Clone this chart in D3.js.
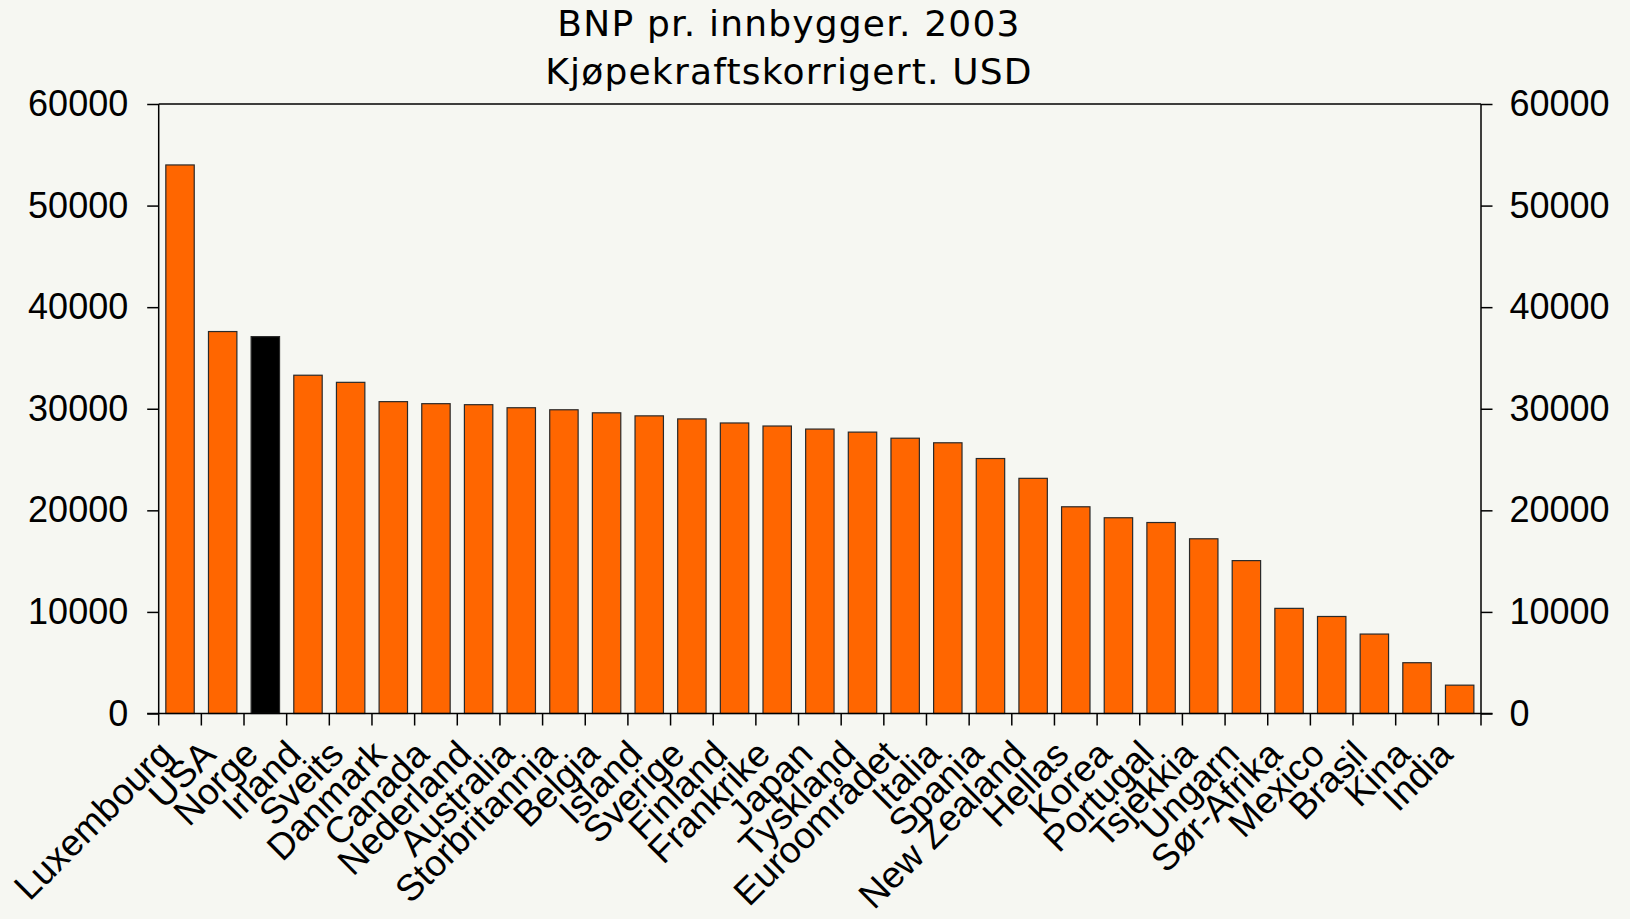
<!DOCTYPE html>
<html>
<head>
<meta charset="utf-8">
<script src="https://cdn.jsdelivr.net/npm/d3@7"></script>
<style>
  html, body { margin: 0; padding: 0; background: #f6f7f2; }
  svg { display: block; }
</style>
</head>
<body>
<svg id="chart" width="1630" height="919"></svg>
<script>
// ---- data ----
const titleLines = ["BNP pr. innbygger. 2003", "Kjøpekraftskorrigert. USD"];
const countries = ["Luxembourg", "USA", "Norge", "Irland", "Sveits", "Danmark", "Canada", "Nederland",
  "Australia", "Storbritannia", "Belgia", "Island", "Sverige", "Finland", "Frankrike", "Japan",
  "Tyskland", "Euroområdet", "Italia", "Spania", "New Zealand", "Hellas", "Korea", "Portugal",
  "Tsjekkia", "Ungarn", "Sør-Afrika", "Mexico", "Brasil", "Kina", "India"];
const gdpPerCapita = [54000, 37600, 37100, 33300, 32600, 30700, 30500, 30400,
  30100, 29900, 29600, 29300, 29000, 28600, 28300, 28000,
  27700, 27100, 26650, 25100, 23150, 20350, 19270, 18800,
  17200, 15050, 10350, 9550, 7820, 5000, 2790];
const highlighted = ["Norge"];
const yTicks = [0, 10000, 20000, 30000, 40000, 50000, 60000];

// ---- layout ----
const W = 1630, H = 919;
const pLeft = 158.7, pRight = 1481, pTop = 104, pBottom = 713.5;
const svg = d3.select("#chart");
svg.append("rect").attr("width", W).attr("height", H).attr("fill", "#f6f7f2");

const x = d3.scaleBand().domain(countries).range([pLeft, pRight]).padding(0);
const y = d3.scaleLinear().domain([0, 60000]).range([pBottom, pTop]);
const barFrac = 0.666;

// bars
svg.append("g").selectAll("rect").data(countries).join("rect")
  .attr("x", d => x(d) + x.step() * (1 - barFrac) / 2)
  .attr("width", x.step() * barFrac)
  .attr("y", (d, i) => y(gdpPerCapita[i]))
  .attr("height", (d, i) => y(0) - y(gdpPerCapita[i]))
  .attr("fill", d => highlighted.includes(d) ? "#000000" : "#ff6600")
  .attr("stroke", "#2a2a2a")
  .attr("stroke-width", 1.2);

// top border
svg.append("line").attr("x1", pLeft).attr("x2", pRight).attr("y1", pTop).attr("y2", pTop)
  .attr("stroke", "#000").attr("stroke-width", 1.5);

// left axis
const yAxisL = d3.axisLeft(y).tickValues(yTicks).tickSize(11.5).tickPadding(19).tickFormat(d3.format("d"));
const gL = svg.append("g").attr("transform", `translate(${pLeft},0)`).call(yAxisL);
// right axis
const yAxisR = d3.axisRight(y).tickValues(yTicks).tickSize(11.5).tickPadding(17).tickFormat(d3.format("d"));
const gR = svg.append("g").attr("transform", `translate(${pRight},0)`).call(yAxisR);
[gL, gR].forEach(g => {
  g.select(".domain").attr("stroke", "#000").attr("stroke-width", 1.5)
    .attr("d", `M0,${pTop}V${pBottom}`);
  g.selectAll(".tick line").attr("stroke", "#000").attr("stroke-width", 1.5);
  g.selectAll(".tick text").attr("fill", "#000")
    .style("font-family", "'Liberation Sans', Arial, sans-serif").style("font-size", "36px");
});

// bottom axis: ticks at category boundaries
const boundaries = countries.map(c => x(c)).concat([pRight]);
svg.append("line").attr("x1", pLeft - 11.5).attr("x2", pRight + 11.5).attr("y1", pBottom).attr("y2", pBottom)
  .attr("stroke", "#000").attr("stroke-width", 1.5);
svg.append("g").selectAll("line").data(boundaries).join("line")
  .attr("x1", d => d).attr("x2", d => d).attr("y1", pBottom).attr("y2", pBottom + 12)
  .attr("stroke", "#000").attr("stroke-width", 1.5);

// category labels, rotated
svg.append("g").selectAll("text").data(countries).join("text")
  .attr("transform", d => `translate(${x(d) + x.step() / 2 - 5},${pBottom + 43}) rotate(-45)`)
  .attr("text-anchor", "end")
  .style("font-family", "'Liberation Sans', Arial, sans-serif")
  .style("font-size", "37px")
  .attr("fill", "#000")
  .text(d => d);

// title
svg.append("g").selectAll("text").data(titleLines).join("text")
  .attr("x", 789)
  .attr("y", (d, i) => 36 + i * 48)
  .attr("text-anchor", "middle")
  .style("font-family", "'DejaVu Sans', Verdana, sans-serif")
  .style("font-size", "36px")
  .style("letter-spacing", "1.2px")
  .attr("fill", "#000")
  .text(d => d);
</script>
</body>
</html>
